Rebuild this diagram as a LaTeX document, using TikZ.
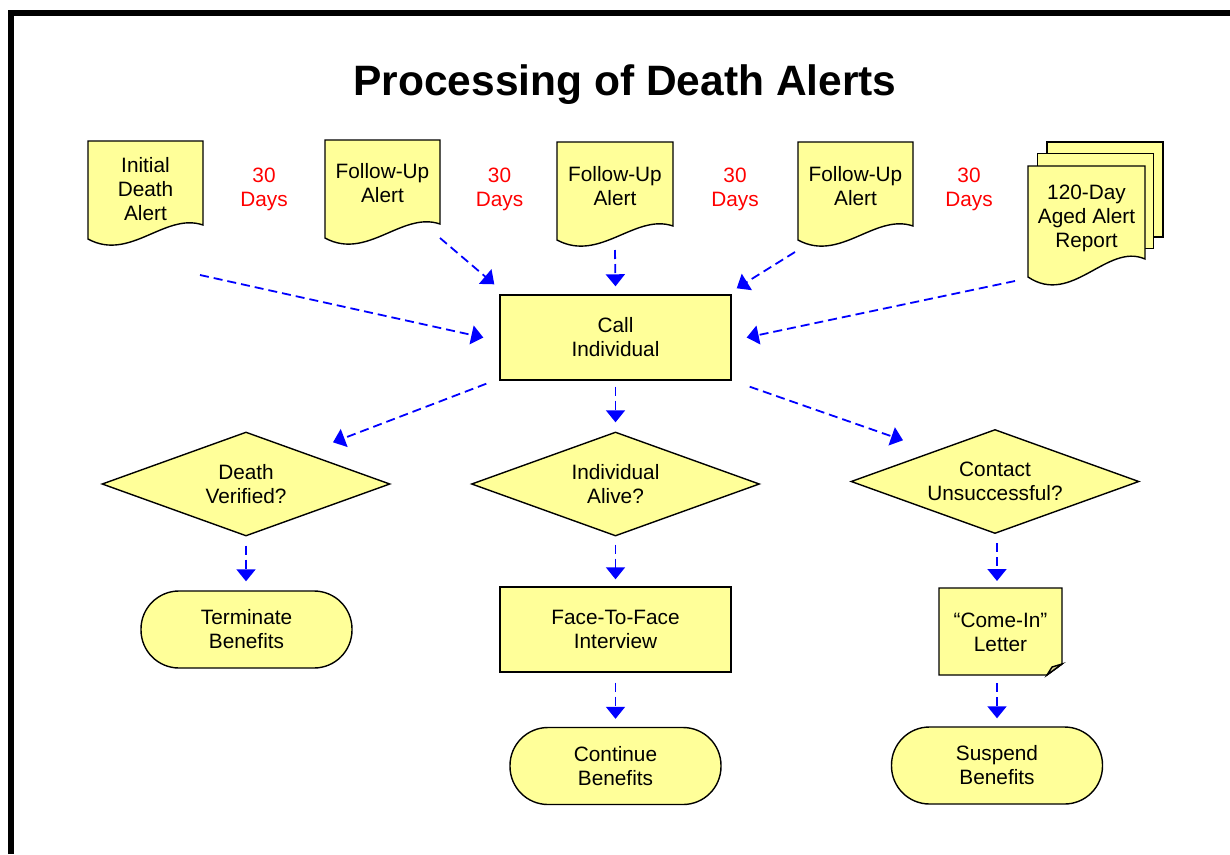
\documentclass[tikz,border=0pt]{standalone}
\usepackage{fontspec}
\setmainfont{Liberation Sans}
\usetikzlibrary{arrows.meta,calc,shapes.geometric}
\definecolor{paleyellow}{RGB}{255,255,153}
\definecolor{foldyellow}{RGB}{214,208,140}
\newcommand\docoutline[2]{%
  \path[shp] (#1.north west) -- (#1.north east) -- ($(#1.south east)+(0,-#2)$)
    .. controls ($(#1.south east)+(-38,{-1.93*#2})$) and ($(#1.south east)+(-73,{1.64*#2})$) .. (#1.south west) -- cycle;}
\begin{document}
\begin{tikzpicture}[x=1pt,y=-1pt,
  every node/.style={font=\fontsize{20.8}{24}\selectfont, align=center, inner sep=0pt},
  shp/.style={draw=black, line width=1.4pt, fill=paleyellow},
  area/.style={rectangle, draw=none, fill=none, outer sep=0pt},
  page/.style={shp, rectangle, minimum width=116pt, minimum height=95pt},
  box/.style={shp, rectangle, minimum width=231pt, minimum height=85pt},
  term/.style={shp, rectangle, rounded corners=38pt, minimum width=211pt, minimum height=77pt},
  dec/.style={shp, diamond, aspect=2.77, minimum width=288pt, minimum height=104pt},
  days/.style={text=red},
  arr/.style={draw=blue, line width=1.8pt, dash pattern=on 9pt off 5pt,
    -{Triangle[length=12pt,width=19pt,fill=blue]}},
]
\useasboundingbox (0,0) rectangle (1230,854);
% frame
\draw[line width=6pt] (11,854) -- (11,13) -- (1230,13);
% title
\node[font=\fontsize{42.5}{50}\selectfont\bfseries, anchor=base] (title) at (625,95) {Processing of Death Alerts};

% documents
\node[area, minimum width=115pt, minimum height=98pt] (d1) at (145.5,190) {};
\docoutline{d1}{14}
\node (t1) at (145.5,189.5) {Initial\\Death\\Alert};

\node[area, minimum width=115pt, minimum height=98pt] (d2) at (382.5,189) {};
\docoutline{d2}{14}
\node (t2) at (382.5,183.5) {Follow-Up\\Alert};

\node[area, minimum width=116pt, minimum height=98pt] (d3) at (615,191) {};
\docoutline{d3}{14}
\node (t3) at (615,186.5) {Follow-Up\\Alert};

\node[area, minimum width=115pt, minimum height=98pt] (d4) at (855.5,191) {};
\docoutline{d4}{14}
\node (t4) at (855.5,186.5) {Follow-Up\\Alert};

% stacked report
\node[page] (p3) at (1105,189.5) {};
\node[page] (p2) at (1095.5,201) {};
\node[area, minimum width=117pt, minimum height=111pt] (d5) at (1086.5,221.5) {};
\docoutline{d5}{18}
\node (t5) at (1086.5,218.5) {120-Day\\Aged Alert\\Report};

% interval labels
\node[days] (y1) at (264,189.5) {30\\Days};
\node[days] (y2) at (499.5,189.5) {30\\Days};
\node[days] (y3) at (735,189.5) {30\\Days};
\node[days] (y4) at (969,189.5) {30\\Days};

% process
\node[box] (call) at (615.5,337.5) {Call\\Individual};
\node[dec] (dv) at (246,484) {Death\\Verified?};
\node[dec] (ia) at (615.5,484) {Individual\\Alive?};
\node[dec] (cu) at (995,481.5) {Contact\\Unsuccessful?};
\node[term] (tb) at (246.5,629.5) {Terminate\\Benefits};
\node[box] (ff) at (615.5,629.5) {Face-To-Face\\Interview};
\node[area, minimum width=123pt, minimum height=87pt] (ci) at (1000.5,631.5) {};
\path[shp] (ci.north west) -- (ci.north east) -- ($(ci.south east)+(0,-11)$) -- ($(ci.south east)+(-15,0)$) -- (ci.south west) -- cycle;
\path[shp, fill=foldyellow] ($(ci.south east)+(0,-11)$) -- ($(ci.south east)+(-10,-8)$) -- ($(ci.south east)+(-15,0)$) -- cycle;
\node (cit) at (1000.5,632) {``Come-In''\\Letter};
\node[term] (cb) at (615.5,766) {Continue\\Benefits};
\node[term] (sb) at (997,765.5) {Suspend\\Benefits};

% connectors
\draw[arr] ($(d1.south east)+(-3,36)$) -- ($(call.west)+(-16,0)$);
\draw[arr] (d2.south east) -- ($(call.north west)+(-5,-10)$);
\draw[arr] ($(d3.south)+(0,10)$) -- ($(call.north)+(0,-8)$);
\draw[arr] ($(d4.south west)+(-3,12)$) -- ($(call.north east)+(5,-6)$);
\draw[arr] ($(d5.south west)+(-13,4)$) -- ($(call.east)+(15,0)$);
\draw[arr] ($(call.south west)+(-13,3)$) -- ($(dv.north)+(87,11)$);
\draw[arr] ($(call.south)+(0,6)$) -- ($(ia.north)+(0,-9)$);
\draw[arr] ($(call.south east)+(18,6)$) -- ($(cu.north)+(-92,11.5)$);
\draw[arr] ($(dv.south)+(0,9)$) -- ($(tb.north)+(-0.5,-9)$);
\draw[arr] ($(ia.south)+(0,8)$) -- ($(ff.north)+(0,-7)$);
\draw[arr] ($(cu.south)+(2,9)$) -- ($(ci.north)+(-3.5,-7)$);
\draw[arr] ($(ff.south)+(0,10)$) -- ($(cb.north)+(0,-8)$);
\draw[arr] ($(ci.south)+(-3.5,8)$) -- ($(sb.north)+(0,-8)$);
\end{tikzpicture}
\end{document}
